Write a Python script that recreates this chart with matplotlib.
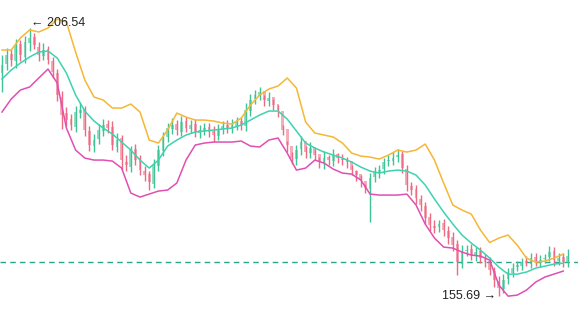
import numpy as np
import matplotlib.pyplot as plt

# candle data (price)
opens = [
    198.0, 199.8, 201.6, 200.2, 203.5, 201.0, 203.6, 204.9, 203.0, 201.2,
    202.6, 200.3, 198.0, 193.5, 190.4, 189.3, 187.8, 190.4, 191.2, 187.0,
    184.1, 185.5, 187.0, 188.4, 187.8, 184.0, 185.6, 181.2, 180.2, 183.6,
    181.8, 179.4, 178.9, 177.0, 180.3, 183.2, 185.9, 187.3, 188.4, 186.9,
    188.9, 187.4, 188.4, 186.6, 187.0, 187.8, 187.0, 186.0, 187.4, 188.2,
    187.4, 188.0, 188.9, 187.9, 190.8, 193.1, 193.6, 194.6, 192.6, 193.5,
    192.2, 190.8, 187.4, 184.1, 181.7, 183.6, 185.1, 182.8, 184.0, 182.6,
    180.9, 182.1, 181.3, 182.6, 181.7, 181.7, 181.3, 179.4, 178.8, 177.5,
    175.9, 178.3, 179.0, 179.8, 181.3, 181.3, 182.1, 182.6, 179.8, 176.5,
    176.0, 174.1, 172.7, 170.7, 169.0, 168.8, 169.5, 168.0, 166.9, 165.6,
    161.8, 164.2, 164.6, 163.3, 164.2, 162.7, 162.3, 160.4, 158.5, 157.0,
    158.9, 160.0, 161.2, 161.4, 162.4, 161.8, 163.1, 161.9, 162.7, 163.1,
    164.2, 162.3, 163.1, 161.9,
]
closes = [
    199.5, 201.4, 200.5, 203.3, 201.4, 203.9, 204.6, 203.3, 201.4, 202.4,
    200.5, 198.2, 193.8, 190.0, 189.1, 188.1, 190.6, 191.0, 187.2, 184.3,
    185.3, 187.2, 188.1, 187.6, 184.3, 185.3, 181.5, 180.5, 183.4, 181.5,
    179.6, 178.6, 177.3, 180.5, 183.4, 185.7, 187.6, 188.1, 187.2, 188.7,
    187.6, 188.1, 186.8, 187.2, 187.6, 186.8, 186.2, 187.2, 187.9, 187.6,
    188.1, 188.7, 188.1, 191.0, 192.9, 193.8, 194.4, 192.9, 193.3, 191.9,
    191.0, 187.2, 184.3, 181.9, 183.4, 184.9, 183.0, 183.8, 182.4, 181.1,
    181.9, 181.5, 182.4, 181.9, 181.5, 181.1, 179.6, 178.6, 177.7, 176.2,
    178.1, 179.2, 179.6, 181.1, 181.5, 181.9, 182.4, 180.0, 176.7, 175.8,
    174.3, 172.9, 170.5, 169.2, 168.6, 169.3, 168.2, 166.7, 165.4, 162.1,
    164.0, 164.4, 163.5, 164.0, 162.9, 162.1, 160.6, 158.7, 157.2, 158.7,
    160.2, 161.0, 161.6, 162.1, 162.1, 162.9, 162.1, 162.5, 162.9, 164.0,
    162.5, 162.9, 162.1, 163.3,
]
highs = [
    201.5, 202.8, 202.5, 204.5, 204.2, 205.0, 206.54, 205.6, 203.8, 203.6,
    203.2, 201.0, 198.8, 194.5, 191.5, 190.2, 191.8, 192.5, 191.8, 187.9,
    186.4, 188.3, 189.2, 189.0, 188.9, 186.6, 186.2, 182.4, 184.2, 184.5,
    182.5, 180.3, 179.5, 181.6, 184.3, 186.8, 188.6, 189.4, 189.1, 189.9,
    189.6, 189.0, 189.2, 188.1, 188.5, 188.6, 187.9, 188.3, 188.8, 189.0,
    189.2, 189.6, 189.7, 192.3, 194.0, 194.7, 195.3, 193.8, 194.3, 193.0,
    191.9, 188.2, 185.1, 183.0, 184.4, 186.0, 184.2, 184.9, 183.5, 182.0,
    183.2, 182.4, 183.5, 182.9, 182.6, 182.0, 180.5, 179.6, 178.6, 177.0,
    179.0, 180.1, 180.6, 181.9, 182.4, 183.0, 183.6, 183.2, 180.6, 177.3,
    176.8, 174.9, 173.5, 171.4, 170.1, 170.2, 170.3, 168.9, 167.8, 166.3,
    165.3, 165.4, 165.5, 165.0, 164.9, 163.6, 163.0, 161.2, 159.4, 159.8,
    161.0, 161.9, 162.4, 162.9, 163.2, 163.8, 163.9, 163.4, 163.6, 165.2,
    165.0, 163.8, 163.9, 164.6,
]
lows = [
    194.4, 198.5, 199.3, 199.0, 200.2, 199.9, 202.2, 202.5, 200.3, 200.4,
    199.7, 197.1, 192.6, 187.3, 187.9, 187.2, 186.9, 189.5, 186.0, 183.2,
    183.0, 184.6, 186.1, 186.7, 183.4, 183.1, 179.6, 179.4, 179.3, 180.6,
    178.7, 177.6, 175.8, 176.2, 179.4, 182.3, 185.0, 186.5, 186.3, 186.0,
    186.8, 186.6, 185.8, 185.6, 186.2, 185.9, 185.0, 185.2, 186.5, 186.7,
    186.6, 187.1, 187.2, 187.0, 189.8, 192.2, 192.8, 191.8, 191.7, 190.9,
    189.7, 186.2, 183.0, 180.8, 180.6, 182.5, 181.9, 181.8, 181.4, 180.0,
    179.8, 180.5, 180.3, 180.9, 180.5, 180.0, 178.6, 177.6, 176.4, 175.3,
    169.7, 177.4, 178.1, 178.9, 180.4, 180.5, 181.2, 179.0, 175.6, 174.8,
    173.2, 171.8, 169.4, 168.1, 167.6, 167.8, 167.1, 165.6, 164.3, 159.7,
    161.0, 163.2, 162.5, 162.4, 162.0, 161.2, 159.6, 157.4, 155.69, 156.2,
    157.9, 159.2, 160.4, 160.6, 161.3, 161.0, 161.3, 161.1, 161.9, 162.3,
    161.4, 161.5, 161.2, 161.1,
]

# bands, read every second candle
band_upper = [
    202.36, 202.36, 204.64, 206.16, 205.78, 206.54, 208.24, 207.67, 201.98, 196.67,
    193.44, 192.87, 191.35, 191.35, 192.11, 190.59, 185.28, 184.71, 187.18, 190.40,
    189.64, 189.07, 189.07, 188.88, 188.50, 188.31, 189.45, 191.92, 193.82, 194.96,
    195.53, 197.05, 195.15, 188.69, 186.61, 186.23, 185.85, 184.71, 182.81, 182.24,
    182.05, 181.67, 182.43, 183.38, 183.00, 183.38, 184.52, 181.48, 177.12, 172.94,
    171.99, 171.23, 168.20, 165.83, 166.68, 167.25, 165.35, 162.88, 162.12, 162.31,
    162.88, 163.64,
]
band_mid = [
    196.86, 198.56, 199.89, 201.03, 201.98, 202.17, 200.84, 197.99, 193.82, 190.78,
    188.88, 187.56, 186.42, 184.90, 183.38, 181.48, 179.96, 181.48, 184.14, 185.28,
    186.23, 186.80, 186.99, 187.18, 187.37, 187.56, 188.12, 189.07, 190.02, 190.78,
    190.78, 189.26, 186.99, 184.71, 183.76, 183.00, 182.43, 181.86, 181.10, 180.15,
    179.39, 179.01, 179.39, 179.58, 179.39, 178.63, 176.74, 174.08, 171.61, 169.33,
    167.25, 165.73, 164.40, 162.88, 161.17, 159.84, 159.84, 160.23, 160.98, 161.36,
    161.74, 161.93,
]
band_lower = [
    190.59, 193.06, 194.77, 195.34, 197.05, 198.75, 196.10, 187.56, 183.38, 181.86,
    181.48, 181.48, 181.29, 179.96, 175.22, 174.46, 175.03, 175.60, 175.79, 177.12,
    181.48, 184.33, 184.71, 184.90, 184.90, 184.90, 185.09, 184.14, 183.95, 185.28,
    185.66, 182.81, 179.58, 179.96, 181.48, 180.91, 179.77, 179.01, 178.82, 177.69,
    175.03, 174.84, 174.84, 174.84, 175.03, 172.94, 169.33, 166.68, 164.97, 164.78,
    164.02, 163.45, 163.26, 162.50, 157.76, 155.66, 155.86, 156.81, 158.33, 159.28,
    159.85, 160.42,
]
last_price = 162.1
max_idx, max_val = 6, 206.54
min_idx, min_val = 108, 155.69

up_col = '#3fc394'
down_col = '#ee6a82'

fig = plt.figure(figsize=(5.78, 3.34), dpi=100)
ax = fig.add_axes([0, 0, 1, 1])

x = np.arange(len(closes))
o = np.array(opens)
c = np.array(closes)
colors = [up_col if cc >= oo else down_col for oo, cc in zip(o, c)]

ax.vlines(x, lows, highs, colors=colors, linewidth=1.0, zorder=2)
body_lo = np.minimum(o, c)
body_h = np.maximum(np.abs(c - o), 0.15)
ax.bar(x, body_h, bottom=body_lo, width=0.6, color=colors, alpha=0.55,
       linewidth=0, zorder=3)

bx = np.arange(0, len(closes), 2)
ax.plot(bx, band_upper, color='#f5b735', lw=1.1, zorder=4)
ax.plot(bx, band_mid, color='#3dd3b0', lw=1.1, zorder=4)
ax.plot(bx, band_lower, color='#e04fb2', lw=1.1, zorder=4)

ax.axhline(last_price, color='#2aa68e', lw=1, ls=(0, (4, 3)), zorder=1)

fam = ['Liberation Sans', 'DejaVu Sans']
ax.text(max_idx + 0.3, max_val + 0.9, '\u2190 %.2f' % max_val, fontsize=9,
        family=fam, ha='left', va='center', color='#222222', zorder=5)
ax.text(min_idx - 0.5, min_val, '%.2f \u2192' % min_val, fontsize=9,
        family=fam, ha='right', va='center', color='#222222', zorder=5)

ax.set_xlim(-0.435, 125.2)
ax.set_ylim(148.48, 211.85)
ax.axis('off')

fig.savefig('out.png', dpi=100)
